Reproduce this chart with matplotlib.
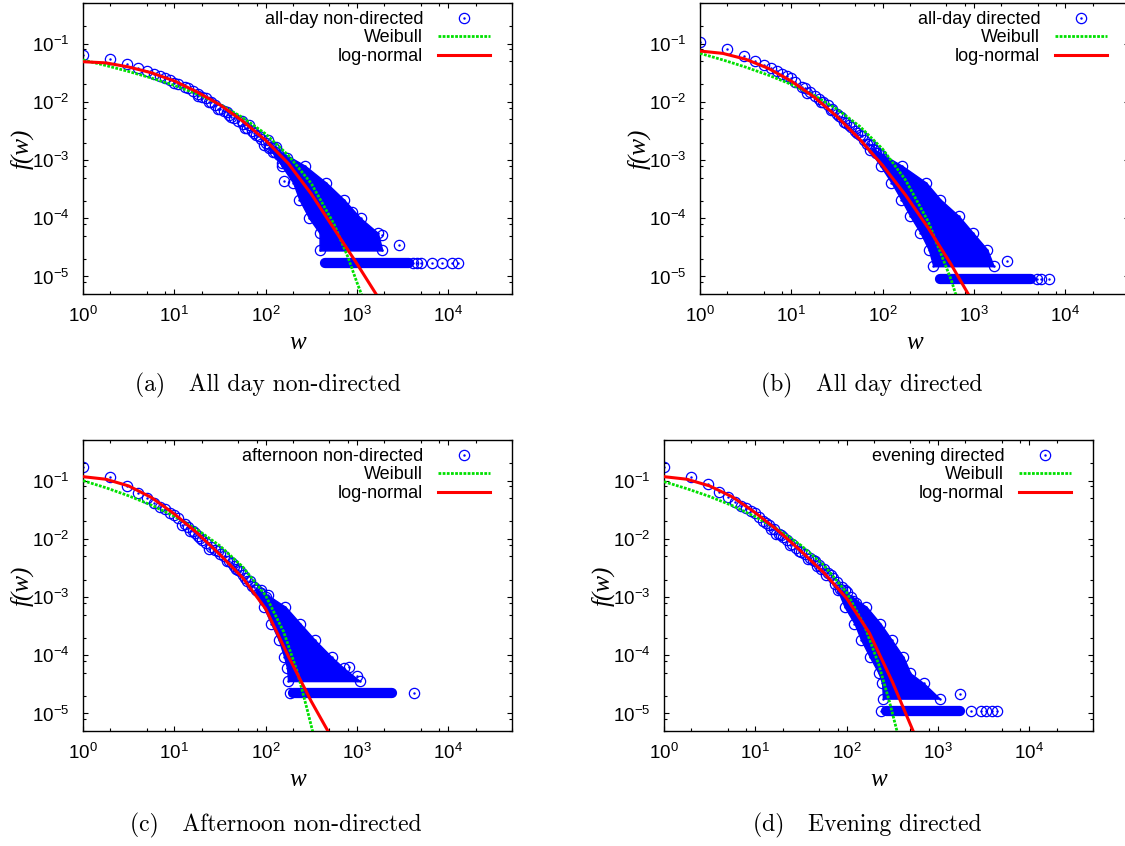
import matplotlib
matplotlib.use('Agg')
import matplotlib.pyplot as plt
from matplotlib.lines import Line2D
from matplotlib.ticker import LogLocator, NullFormatter

plt.rcParams['font.family'] = ['Liberation Sans', 'DejaVu Sans']
plt.rcParams['mathtext.fontset'] = 'custom'
plt.rcParams['mathtext.rm'] = 'Liberation Sans'
plt.rcParams['mathtext.it'] = 'Liberation Sans:italic'
plt.rcParams['mathtext.bf'] = 'Liberation Sans:bold'

BLUE = '#0000ff'
GREEN = '#00e000'
RED = '#ff0000'

# ---------------- panel (a): all-day non-directed ----------------
a_w = [1, 2, 3, 4, 5, 6, 7, 8, 9, 10, 11, 13, 14, 16, 18, 20, 22, 25, 28, 32, 35, 40, 45, 50,
       56, 63, 71, 79, 89, 100, 112, 126, 141, 158, 178, 200, 224,
       18, 24, 30, 38, 42, 55, 60, 66, 75, 85, 95, 105, 120, 130, 150, 160, 170, 190, 215, 244,
       890, 1900, 2900]
a_f = [0.064, 0.055, 0.045, 0.038, 0.0334, 0.030, 0.028, 0.026, 0.0235, 0.0215, 0.0200, 0.0178,
       0.0170, 0.0151, 0.0138, 0.0123, 0.0115, 0.0100, 0.0087, 0.0076, 0.0071, 0.0060, 0.0052,
       0.0047, 0.0042, 0.0036, 0.0032, 0.0027, 0.0023, 0.0020, 0.0017, 0.0014, 0.0012, 0.0010,
       0.00083, 0.00069, 0.00056,
       0.0125, 0.0098, 0.0076, 0.0068, 0.0054, 0.0047, 0.0036, 0.0040, 0.0029, 0.0026, 0.0018,
       0.0022, 0.0014, 0.0017, 0.0009, 0.00044, 0.0011, 0.0007, 0.00075, 0.00065,
       1.29e-4, 5.2e-5, 3.5e-5]
# outer edge of the dense cloud of overlapping circles
a_cloud_f = [1.6e-3, 8e-4, 4.1e-4, 2.1e-4, 1e-4, 5.6e-5, 2.8e-5]
a_cloud_lo = [110, 150, 200, 234, 300, 390, 390]
a_cloud_hi = [125, 270, 460, 720, 1100, 1700, 1900]
a_single = 1.72e-5                       # one occurrence
a_single_range = [450, 3700]
a_single_w = [4100, 4500, 5000, 6700, 8600, 10900, 12900]
a_weib_w = [1, 1.78, 3.16, 5.62, 10, 17.8, 31.6, 56.2, 100, 178, 316, 562, 794, 1000, 1150]
a_weib_f = [0.0525, 0.0422, 0.0333, 0.0257, 0.0192, 0.01368, 0.00904, 0.00537, 0.00282,
            0.0012, 3.98e-4, 7.94e-5, 2.19e-5, 7.94e-6, 4.47e-6]
a_logn_w = [1, 1.78, 3.16, 5.62, 10, 17.8, 31.6, 56.2, 100, 178, 316, 562, 1000, 1620]
a_logn_f = [0.049, 0.0468, 0.0398, 0.0316, 0.0229, 0.0148, 0.00891, 0.00468, 0.00219,
            8.71e-4, 2.63e-4, 6.61e-5, 1.66e-5, 5.0e-6]

# ---------------- panel (b): all-day directed ----------------
b_w = [1, 2, 3, 4, 5, 6, 7, 8, 9, 10, 11, 13, 14, 16, 18, 20, 22, 25, 28, 32, 35, 40, 45, 50,
       56, 63, 71, 79, 89, 100, 112, 126, 141, 158, 178, 200, 224,
       15, 21, 27, 33, 38, 43, 52, 60, 67, 75, 84, 95, 108, 118, 135, 150, 170,
       2300]
b_f = [0.107, 0.080, 0.0614, 0.0504, 0.043, 0.0377, 0.0334, 0.030, 0.0278, 0.0257, 0.0219,
       0.0182, 0.0170, 0.0145, 0.0126, 0.0112, 0.0100, 0.0087, 0.0074, 0.0063, 0.0056, 0.0043,
       0.0037, 0.0032, 0.0027, 0.00225, 0.00188, 0.00158, 0.0013, 0.00105, 0.00088, 0.00072,
       0.0006, 0.00049, 0.0004, 0.00032, 0.00026,
       0.0140, 0.0098, 0.0072, 0.0058, 0.0046, 0.0040, 0.0029, 0.0026, 0.0019, 0.0018, 0.0013,
       0.0012, 0.00092, 0.0008, 0.00062, 0.00055, 0.00036,
       1.84e-5]
b_cloud_f = [1.5e-3, 7.9e-4, 4.1e-4, 2.1e-4, 1.1e-4, 5.6e-5, 2.9e-5, 1.5e-5]
b_cloud_lo = [72, 95, 125, 160, 200, 260, 320, 360]
b_cloud_hi = [82, 165, 300, 430, 680, 980, 1400, 1650]
b_single = 9.2e-6
b_single_range = [427, 4200]
b_single_w = [4940, 5420, 6680]
b_weib_w = [1, 1.78, 3.16, 5.62, 10, 17.8, 31.6, 56.2, 100, 178, 316, 562, 708]
b_weib_f = [0.0682, 0.0526, 0.0396, 0.0288, 0.02, 0.0129, 0.00752, 0.0038, 0.00155, 4.57e-4,
            8.79e-5, 8.9e-6, 2.82e-6]
b_logn_w = [1, 1.78, 3.16, 5.62, 10, 17.8, 31.6, 56.2, 100, 178, 316, 562, 1000]
b_logn_f = [0.0748, 0.0681, 0.0541, 0.0376, 0.0228, 0.0121, 0.00562, 0.00228, 8.11e-4,
            2.52e-4, 6.82e-5, 1.62e-5, 3.39e-6]

# ---------------- panel (c): afternoon non-directed ----------------
c_w = [1, 2, 3, 4, 5, 6, 7, 8, 9, 10, 11, 13, 14, 16, 18, 20, 22, 25, 28, 32, 35, 40, 45, 50,
       56, 63, 71, 79, 89, 100, 112, 126, 141, 158,
       12, 15, 17, 19, 24, 30, 38, 43, 48, 53, 60, 67, 75, 85, 95, 105, 118, 135,
       820, 1000]
c_f = [0.174, 0.117, 0.082, 0.062, 0.050, 0.042, 0.036, 0.032, 0.028, 0.0253, 0.0224, 0.0182,
       0.0162, 0.0135, 0.0112, 0.0095, 0.0085, 0.0072, 0.0065, 0.0055, 0.0050, 0.0042, 0.00347,
       0.00288, 0.0024, 0.0019, 0.00158, 0.00138, 0.00117, 0.0010, 0.00079, 0.00063, 0.0005,
       0.0004,
       0.0175, 0.0135, 0.0128, 0.0105, 0.0068, 0.0062, 0.0041, 0.0039, 0.0030, 0.0028, 0.0021,
       0.0019, 0.0015, 0.0012, 0.0009, 0.0011, 0.00065, 0.00055,
       6.3e-5, 4.4e-5]
c_cloud_f = [1.3e-3, 6.8e-4, 3.5e-4, 1.8e-4, 9.3e-5, 6e-5, 3.6e-5]
c_cloud_lo = [78, 95, 115, 140, 160, 172, 176]
c_cloud_hi = [88, 165, 240, 350, 530, 720, 1080]
c_single = 2.21e-5
c_single_range = [200, 2450]
c_single_w = [185, 4220]
c_weib_w = [1, 1.78, 3.16, 5.62, 10, 17.8, 31.6, 56.2, 100, 158, 224, 282, 339]
c_weib_f = [0.1, 0.0757, 0.055, 0.038, 0.0245, 0.01445, 0.00759, 0.00331, 0.00107, 2.51e-4,
            5.01e-5, 1.26e-5, 3.98e-6]
c_logn_w = [1, 1.78, 3.16, 5.62, 10, 17.8, 31.6, 56.2, 100, 178, 316, 501]
c_logn_f = [0.1172, 0.1059, 0.0813, 0.0513, 0.0269, 0.0126, 0.00537, 0.00214, 6.31e-4,
            9.55e-5, 1.62e-5, 4.47e-6]

# ---------------- panel (d): evening directed ----------------
d_w = [1, 2, 3, 4, 5, 6, 7, 8, 9, 10, 11, 13, 14, 16, 18, 20, 22, 25, 28, 32, 35, 40, 45, 50,
       56, 63, 71, 79, 89, 100, 112, 126, 141, 158,
       12, 15, 17, 19, 24, 30, 38, 43, 48, 53, 60, 67, 75, 85, 95, 105, 118, 135,
       1730]
d_f = [0.174, 0.117, 0.0865, 0.065, 0.0516, 0.0436, 0.0372, 0.0335, 0.030, 0.0275, 0.0234,
       0.0191, 0.0174, 0.0145, 0.0123, 0.0107, 0.0095, 0.0081, 0.0071, 0.0060, 0.0055, 0.0047,
       0.0041, 0.00355, 0.0030, 0.00257, 0.00214, 0.00182, 0.00151, 0.00123, 0.0010, 0.00079,
       0.00063, 0.0005,
       0.0200, 0.0150, 0.0120, 0.0115, 0.0079, 0.0062, 0.0046, 0.0043, 0.0034, 0.0030, 0.0024,
       0.0024, 0.0017, 0.0014, 0.0013, 0.0009, 0.00085, 0.0006,
       2.2e-5]
d_cloud_f = [1.3e-3, 6.8e-4, 3.5e-4, 1.8e-4, 9.3e-5, 4.9e-5, 3.3e-5, 1.8e-5]
d_cloud_lo = [80, 95, 122, 145, 180, 225, 245, 250]
d_cloud_hi = [90, 165, 235, 315, 420, 500, 700, 1050]
d_single = 1.11e-5
d_single_range = [270, 1730]
d_single_w = [240, 2290, 3000, 3390, 3890, 4470]
d_weib_w = [1, 1.78, 3.16, 5.62, 10, 17.8, 31.6, 56.2, 100, 158, 224, 295, 363]
d_weib_f = [0.0962, 0.0729, 0.0535, 0.0372, 0.024, 0.01445, 0.00776, 0.00355, 0.0012,
            3.16e-4, 7.08e-5, 1.58e-5, 4.47e-6]
d_logn_w = [1, 1.78, 3.16, 5.62, 10, 17.8, 31.6, 56.2, 100, 178, 316, 562]
d_logn_f = [0.1172, 0.1059, 0.0813, 0.0525, 0.0282, 0.0138, 0.00617, 0.00263, 9.55e-4,
            2.4e-4, 3.55e-5, 4.17e-6]

labels = ['all-day non-directed', 'all-day directed', 'afternoon non-directed', 'evening directed']
captions = ['(a)   All day non-directed', '(b)   All day directed',
            '(c)   Afternoon non-directed', '(d)   Evening directed']

# layout in pixels: (left, top) of each axes box, and caption centres
W, H = 1125, 846
AX_W, AX_H = 429, 291
boxes = [(83, 3), (700, 3), (83, 440), (664, 440)]
cap_pos = [(268, 385), (872, 385), (276, 825), (867, 825)]

MS = 7.4      # circle size (pt)
MEW = 0.9


def circles(ax, x, y):
    ax.plot(x, y, 'o', mfc='none', mec=BLUE, ms=MS, mew=MEW, zorder=2)
    ax.plot(x, y, '.', color=BLUE, ms=1.5, zorder=2)


def draw(ax, w, f, cf, clo, chi, single, srange, sw, ww, wf, lw_, lf, label):
    # dense part of the cloud (hundreds of overlapping circles)
    ax.fill_betweenx(cf, clo, chi, facecolor=BLUE, edgecolor=BLUE, linewidth=1.0,
                     joinstyle='round', zorder=2)
    circles(ax, clo, cf)
    circles(ax, chi, cf)
    # single-occurrence strip
    ax.plot(srange, [single, single], color=BLUE, lw=MS, solid_capstyle='round', zorder=2)
    circles(ax, sw, [single] * len(sw))
    circles(ax, w, f)
    ax.plot(ww, wf, color=GREEN, lw=2.0, linestyle=(0, (1.0, 0.5)), zorder=3)
    ax.plot(lw_, lf, color=RED, lw=2.2, zorder=4)

    ax.set_xscale('log')
    ax.set_yscale('log')
    ax.set_xlim(1, 5e4)
    ax.set_ylim(5e-6, 0.5)
    ax.xaxis.set_major_locator(LogLocator(base=10, numticks=10))
    ax.set_yticks([1e-5, 1e-4, 1e-3, 1e-2, 1e-1])
    ax.xaxis.set_minor_locator(LogLocator(base=10, subs=(2, 5, 8), numticks=10))
    ax.yaxis.set_minor_locator(LogLocator(base=10, subs=(2, 5, 8), numticks=10))
    ax.xaxis.set_minor_formatter(NullFormatter())
    ax.yaxis.set_minor_formatter(NullFormatter())
    ax.tick_params(which='both', direction='in', top=True, right=True, width=0.8,
                   labelsize=13.5)
    ax.tick_params(which='major', length=3.5)
    ax.tick_params(which='minor', length=2.0)
    ax.tick_params(axis='x', pad=8.5)
    ax.tick_params(axis='y', pad=10)
    for s in ax.spines.values():
        s.set_linewidth(1.0)

    h_data = (Line2D([], [], marker='o', ls='none', mfc='none', mec=BLUE, ms=MS, mew=MEW),
              Line2D([], [], marker='.', ls='none', color=BLUE, ms=1.5))
    h_weib = Line2D([], [], color=GREEN, lw=2.0, linestyle=(0, (1.0, 0.5)))
    h_logn = Line2D([], [], color=RED, lw=2.2)
    ax.legend([h_data, h_weib, h_logn], [label, 'Weibull', 'log-normal'],
              loc='upper right', bbox_to_anchor=(1 - 22 / AX_W, 1 - 8 / AX_H),
              frameon=False, markerfirst=False, fontsize=13, handlelength=2.9,
              handletextpad=0.8, labelspacing=0.08, borderpad=0, borderaxespad=0)

    ax.text(-61 / AX_W, 0.5, 'f(w)', rotation=90, ha='center', va='center',
            transform=ax.transAxes, fontsize=18, family='Liberation Serif', style='italic')
    ax.text(0.5, -(343 - 294) / AX_H, 'w', ha='center', va='center',
            transform=ax.transAxes, fontsize=18, family='Liberation Serif', style='italic')


fig = plt.figure(figsize=(W / 100, H / 100), dpi=100)

panels = [
    (a_w, a_f, a_cloud_f, a_cloud_lo, a_cloud_hi, a_single, a_single_range, a_single_w,
     a_weib_w, a_weib_f, a_logn_w, a_logn_f),
    (b_w, b_f, b_cloud_f, b_cloud_lo, b_cloud_hi, b_single, b_single_range, b_single_w,
     b_weib_w, b_weib_f, b_logn_w, b_logn_f),
    (c_w, c_f, c_cloud_f, c_cloud_lo, c_cloud_hi, c_single, c_single_range, c_single_w,
     c_weib_w, c_weib_f, c_logn_w, c_logn_f),
    (d_w, d_f, d_cloud_f, d_cloud_lo, d_cloud_hi, d_single, d_single_range, d_single_w,
     d_weib_w, d_weib_f, d_logn_w, d_logn_f),
]

for i, p in enumerate(panels):
    left, top = boxes[i]
    ax = fig.add_axes([left / W, 1 - (top + AX_H) / H, AX_W / W, AX_H / H])
    draw(ax, *p, labels[i])
    cx, cy = cap_pos[i]
    fig.text(cx / W, 1 - cy / H, captions[i], ha='center', va='center',
             family=['cmr10', 'DejaVu Serif'], fontsize=17)

fig.savefig('out.png', dpi=100)
